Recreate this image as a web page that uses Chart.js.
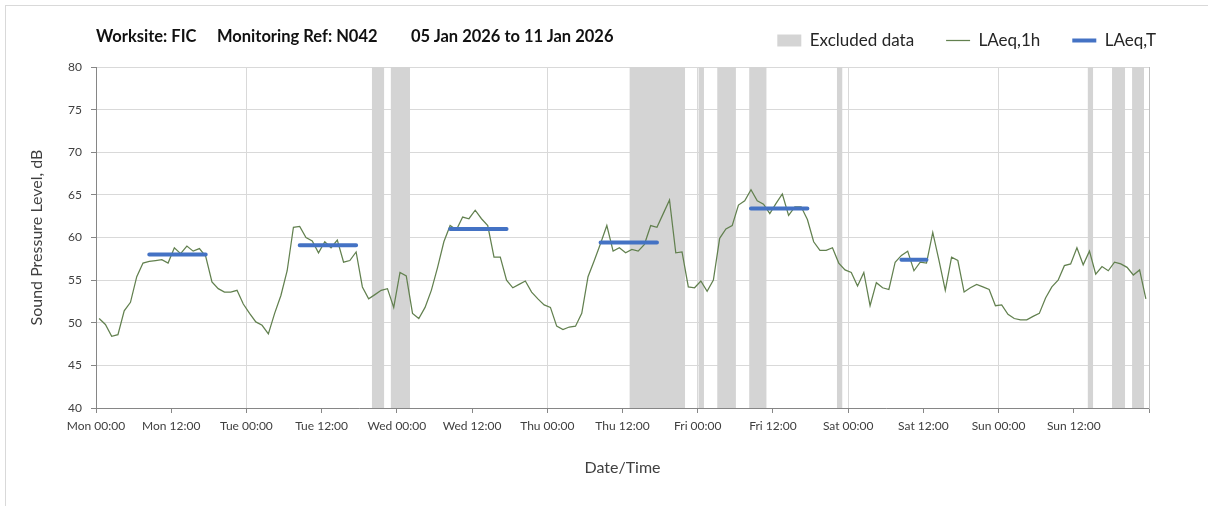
<!DOCTYPE html>
<html lang="en">
<head>
  <meta charset="UTF-8" />
  <title>Noise monitoring: FIC N042</title>
  <script src="https://cdn.jsdelivr.net/npm/chart.js"></script>
  <style>
    body {
      margin: 0;
      background: #fff;
      font-family: Lato, sans-serif;
    }

    .wrap {
      position: relative;
      width: 1208px;
      height: 506px;
      overflow: hidden;
    }

    /* light frame round the whole chart, like the exported picture */
    .frame {
      position: absolute;
      left: 5px;
      top: 5px;
      width: 1260px;
      height: 560px;
      border: 1px solid #d9d9d9;
    }

    .title span {
      position: absolute;
      top: 26px;
      font-size: 16.5px;
      font-weight: bold;
      color: #111;
      white-space: nowrap;
    }

    canvas {
      position: absolute;
      left: 0;
      top: 0;
    }
  </style>
</head>
<body>
  <div class="wrap">
    <div class="frame"></div>
    <canvas id="noiseChart" width="1208" height="506"></canvas>
    <div class="title">
      <span style="left: 96px;">Worksite: FIC</span>
      <span style="left: 217px;">Monitoring Ref: N042</span>
      <span style="left: 411px;">05 Jan 2026 to 11 Jan 2026</span>
    </div>
  </div>

  <script>
    const dayNames = ['Mon', 'Tue', 'Wed', 'Thu', 'Fri', 'Sat', 'Sun'];

    // LAeq,1h, one value per hour from Mon 00:00
    const laeq1h = [
      50.5, 49.8, 48.4, 48.6, 51.4, 52.4, 55.4, 57.0, 57.2, 57.3, 57.4, 57.0,
      58.8, 58.1, 59.0, 58.4, 58.7, 57.8, 54.8, 54.0, 53.6, 53.6, 53.8, 52.2,
      51.1, 50.1, 49.7, 48.7, 51.1, 53.2, 56.1, 61.2, 61.3, 60.0, 59.6, 58.2,
      59.5, 58.8, 59.7, 57.1, 57.3, 58.3, 54.2, 52.8, 53.3, 53.8, 54.0, 51.8,
      55.9, 55.5, 51.1, 50.5, 51.8, 53.8, 56.5, 59.5, 61.4, 60.9, 62.4, 62.2,
      63.2, 62.2, 61.4, 57.7, 57.7, 55.0, 54.1, 54.5, 54.9, 53.6, 52.8, 52.1,
      51.8, 49.6, 49.2, 49.5, 49.6, 51.1, 55.4, 57.3, 59.3, 61.4, 58.4, 58.8,
      58.2, 58.6, 58.4, 59.2, 61.4, 61.2, 62.8, 64.4, 58.2, 58.3, 54.2, 54.1,
      54.9, 53.7, 55.0, 59.9, 61.0, 61.4, 63.8, 64.3, 65.6, 64.3, 63.9, 62.8,
      64.0, 65.1, 62.6, 63.6, 63.6, 62.1, 59.5, 58.5, 58.5, 58.8, 57.0, 56.2,
      55.9, 54.3, 55.9, 52.0, 54.7, 54.1, 53.9, 57.1, 57.9, 58.4, 56.1, 57.1,
      57.0, 60.6, 57.3, 53.8, 57.7, 57.3, 53.6, 54.1, 54.5, 54.2, 53.9, 52.0,
      52.1, 51.0, 50.5, 50.35, 50.35, 50.75, 51.1, 52.9, 54.2, 55.0, 56.7, 56.9,
      58.8, 56.8, 58.4, 55.7, 56.6, 56.1, 57.1, 56.9, 56.5, 55.6, 56.2, 52.8
    ];

    // LAeq,T periods (hour index of first / last hourly value)
    const periodStart = [8, 32, 56, 80, 104, 128];
    const periodEnd = [17, 41, 65, 89, 113, 132];
    const periodLevel = [58.0, 59.1, 61.0, 59.4, 63.4, 57.4];

    // excluded data, hours from Mon 00:00
    const excludedStart = [44, 47, 85.1, 96.1, 99.1, 104.2, 118.2, 158.2, 162.1, 165.3];
    const excludedEnd = [46, 50.1, 94, 97, 102.1, 107, 119.1, 159.1, 164.2, 167.2];

    const hourlyPoints = laeq1h.map((v, i) => ({ x: i + 0.5, y: v }));

    const periodPoints = [];
    periodStart.forEach((s, k) => {
      periodPoints.push(
        { x: s + 0.5, y: periodLevel[k] },
        { x: periodEnd[k] + 0.5, y: periodLevel[k] },
        { x: periodEnd[k] + 0.5, y: null }
      );
    });

    // each band is a filled segment from the top of the axis down to its start
    const excludedPoints = [];
    excludedStart.forEach((s, k) => {
      excludedPoints.push(
        { x: s, y: 80 },
        { x: excludedEnd[k], y: 80 },
        { x: excludedEnd[k], y: null }
      );
    });

    // fixed legend height so the plot starts where the original does
    const legendHeight = {
      id: 'legendHeight',
      beforeInit(chart) {
        const fit = chart.legend.fit;
        chart.legend.fit = function () {
          fit.call(this);
          this.height = 67;
        };
      }
    };

    Chart.defaults.font.family = 'Lato, sans-serif';

    new Chart(document.getElementById('noiseChart'), {
      type: 'line',
      data: {
        datasets: [
          {
            label: 'Excluded data',
            data: excludedPoints,
            backgroundColor: '#d4d4d4',
            borderColor: 'rgba(0,0,0,0)',
            borderWidth: 0,
            fill: 'start',
            pointRadius: 0,
            pointStyle: 'rect',
            spanGaps: false,
            order: 3
          },
          {
            label: 'LAeq,1h',
            data: hourlyPoints,
            borderColor: '#62804f',
            backgroundColor: '#62804f',
            borderWidth: 1.25,
            pointRadius: 0,
            pointStyle: 'line',
            fill: false,
            tension: 0,
            order: 2
          },
          {
            label: 'LAeq,T',
            data: periodPoints,
            borderColor: '#4472c4',
            backgroundColor: '#4472c4',
            borderWidth: 4,
            borderCapStyle: 'round',
            pointRadius: 0,
            pointStyle: 'line',
            fill: false,
            spanGaps: false,
            order: 1
          }
        ]
      },
      options: {
        responsive: false,
        animation: false,
        layout: { padding: { left: 0, right: 20, top: 0, bottom: 0 } },
        plugins: {
          tooltip: { enabled: false },
          legend: {
            position: 'top',
            align: 'end',
            labels: {
              usePointStyle: true,
              pointStyleWidth: 24,
              boxHeight: 12,
              padding: 32,
              color: '#262626',
              font: { size: 17 },
              sort: (a, b) => a.datasetIndex - b.datasetIndex
            }
          }
        },
        scales: {
          x: {
            type: 'linear',
            min: 0,
            max: 168,
            ticks: {
              stepSize: 12,
              autoSkip: false,
              maxRotation: 0,
              padding: 6,
              color: '#404040',
              font: { size: 12 },
              callback: v => v < 168
                ? dayNames[Math.floor(v / 24)] + (v % 24 === 0 ? ' 00:00' : ' 12:00')
                : ''
            },
            grid: {
              color: c => (c.tick && c.tick.value % 24 === 0) ? '#d9d9d9' : 'rgba(0,0,0,0)',
              tickColor: '#868686',
              tickLength: 5
            },
            border: { color: '#868686' },
            title: {
              display: true,
              text: 'Date/Time',
              color: '#404040',
              font: { size: 16 },
              padding: { top: 0, bottom: 29 }
            },
            afterFit: s => { s.height = 98; }
          },
          y: {
            min: 40,
            max: 80,
            ticks: { stepSize: 5, padding: 9, color: '#404040', font: { size: 12 } },
            grid: { color: '#d9d9d9', tickColor: '#868686', tickLength: 5 },
            border: { color: '#868686' },
            title: {
              display: true,
              text: 'Sound Pressure Level, dB',
              color: '#404040',
              font: { size: 16 },
              padding: { top: 27, bottom: 0 }
            },
            afterFit: s => { s.width = 96; }
          },
          y2: {
            position: 'right',
            grid: { drawOnChartArea: false, drawTicks: false },
            ticks: { display: false },
            border: { color: '#bfbfbf' },
            afterFit: s => { s.width = 39; }
          }
        }
      },
      plugins: [legendHeight]
    });
  </script>
</body>
</html>
